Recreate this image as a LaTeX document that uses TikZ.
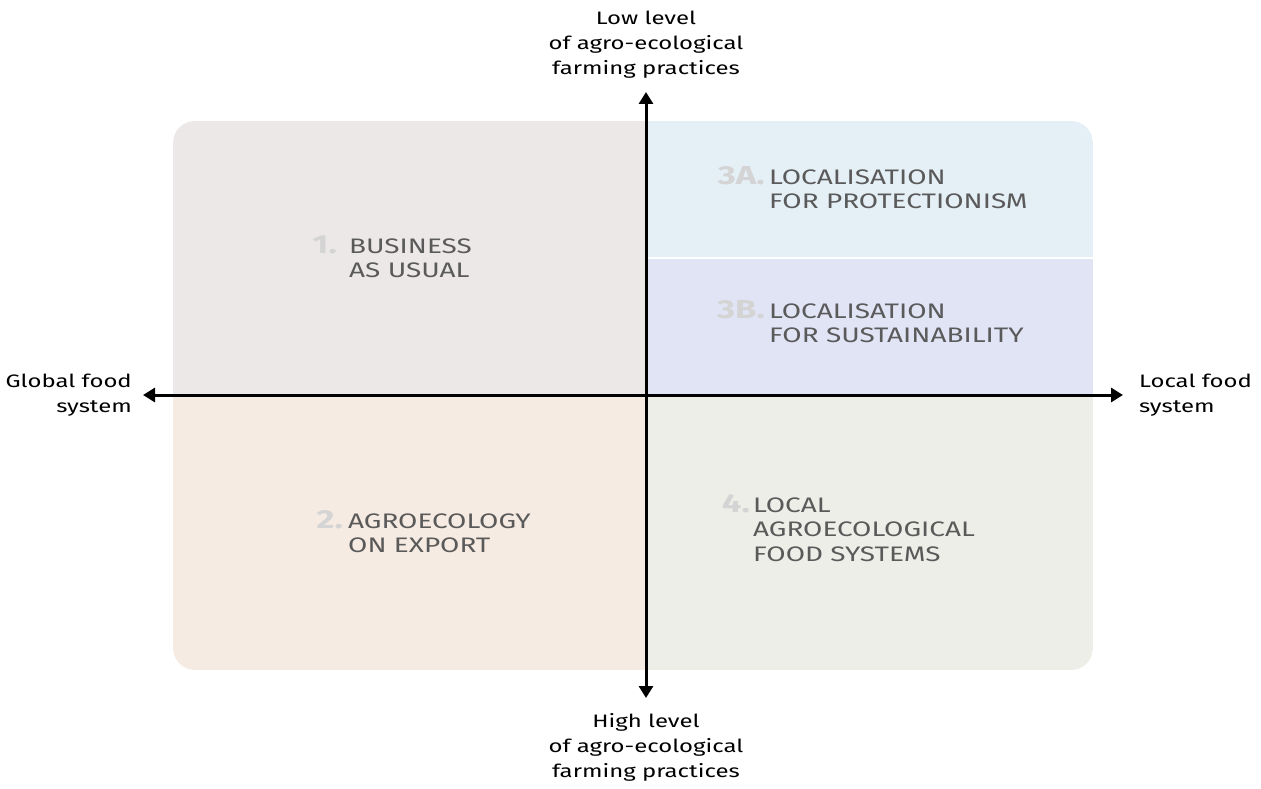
\documentclass[tikz,border=0pt]{standalone}
\usepackage{fontspec}
\setmainfont[FakeStretch=1.33]{Fira Sans}
\usetikzlibrary{arrows.meta}
\definecolor{qone}{HTML}{ECE8E8}
\definecolor{qthreea}{HTML}{E4EFF6}
\definecolor{qthreeb}{HTML}{E0E4F5}
\definecolor{qtwo}{HTML}{F5EBE2}
\definecolor{qfour}{HTML}{ECEEE7}
\definecolor{labelgray}{HTML}{5A5A5A}
\definecolor{numgray}{HTML}{D4D4D4}
\tikzset{
  axis/.style={line width=3pt,-{Triangle[length=12pt,width=14pt]}},
  axislabel/.style={font=\fontsize{18}{25}\selectfont,text=black,inner sep=0pt,align=center},
  quadtitle/.style={font=\fontsize{21}{24.5}\selectfont,text=labelgray,inner sep=0pt,align=left,anchor=north west},
  quadnum/.style={font=\fontsize{26}{26}\selectfont\bfseries,text=numgray,inner sep=0pt,anchor=base east}
}
\begin{document}
\begin{tikzpicture}[x=1pt,y=-1pt]
\useasboundingbox (0,0) rectangle (1261,789);
% quadrant backgrounds inside one rounded panel
\begin{scope}
  \clip[rounded corners=22pt] (173,121) rectangle (1093,670);
  \fill[qone] (173,121) rectangle (646,395);
  \fill[qthreea] (646,121) rectangle (1093,258);
  \fill[qthreeb] (646,258) rectangle (1093,395);
  \fill[qtwo] (173,395) rectangle (646,670);
  \fill[qfour] (646,395) rectangle (1093,670);
  \draw[white,line width=1.2pt] (646,258) -- (1093,258);
\end{scope}
% axes
\coordinate (c) at (646,395);
\coordinate (top) at (646,92);
\coordinate (bottom) at (646,698);
\coordinate (left) at (143,395);
\coordinate (right) at (1123,395);
\draw[axis] (c) -- (top);
\draw[axis] (c) -- (bottom);
\draw[axis] (c) -- (left);
\draw[axis] (c) -- (right);
% axis labels
\node[axislabel,anchor=north] (lowlbl) at (646,11) {Low level\\of agro-ecological\\farming practices};
\node[axislabel,anchor=north] (highlbl) at (646,713) {High level\\of agro-ecological\\farming practices};
\node[axislabel,align=right,anchor=east] (globallbl) at (132,395) {Global food\\system};
\node[axislabel,align=left,anchor=west] (locallbl) at (1139,395) {Local food\\system};
% quadrant titles (north = first baseline - cap height)
\node[quadtitle] (t1) at (349,238.5) {BUSINESS\\AS USUAL};
\node[quadnum] (n1) at (337,253) {1.};
\node[quadtitle] (t3a) at (769,169.5) {LOCALISATION\\FOR PROTECTIONISM};
\node[quadnum] (n3a) at (765,184) {3A.};
\node[quadtitle] (t3b) at (769,303.5) {LOCALISATION\\FOR SUSTAINABILITY};
\node[quadnum] (n3b) at (765,318) {3B.};
\node[quadtitle] (t2) at (348,513.5) {AGROECOLOGY\\ON EXPORT};
\node[quadnum] (n2) at (343,528) {2.};
\node[quadtitle] (t4) at (753,497.5) {LOCAL\\AGROECOLOGICAL\\FOOD SYSTEMS};
\node[quadnum] (n4) at (750,512) {4.};
\end{tikzpicture}
\end{document}
